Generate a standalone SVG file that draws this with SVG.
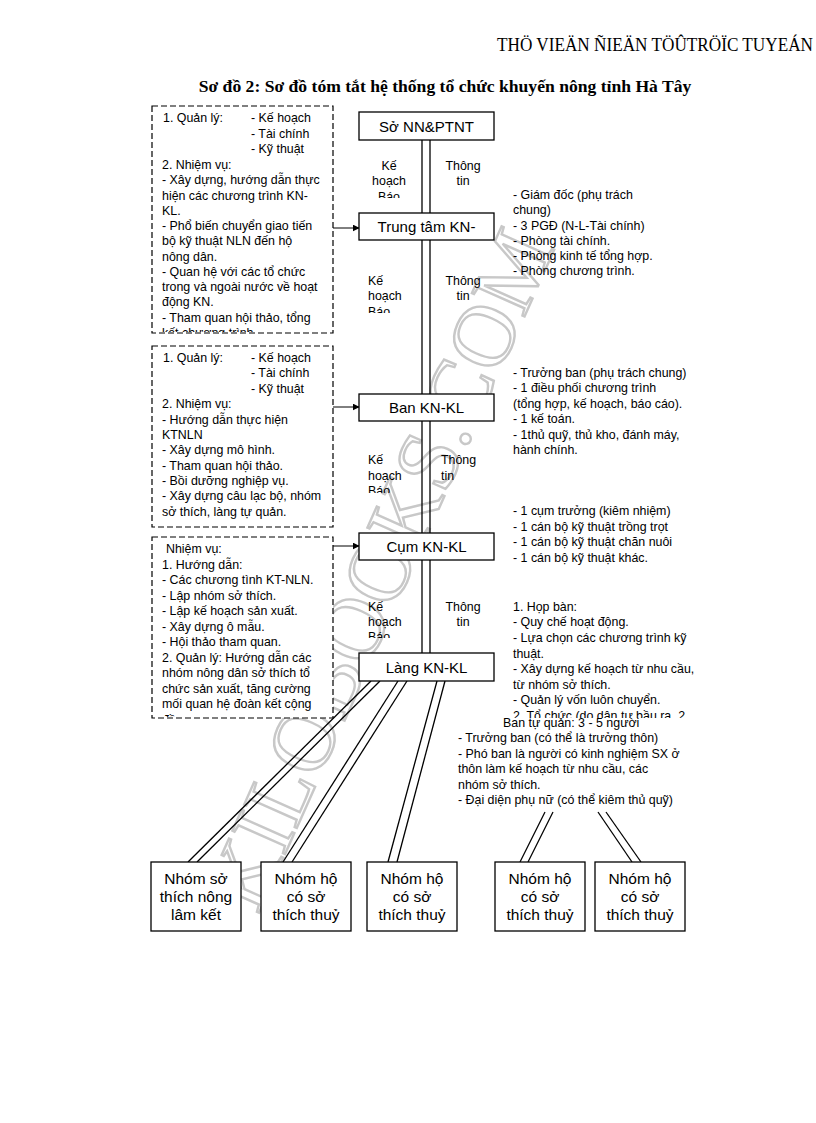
<svg xmlns="http://www.w3.org/2000/svg" width="816" height="1123" viewBox="0 0 816 1123">
<style>
.t{font-family:"Liberation Sans",Arial,sans-serif;font-size:12.4px;fill:#000}
.b{font-family:"Liberation Sans",Arial,sans-serif;font-size:15px;fill:#000}
.bb{font-family:"Liberation Sans",Arial,sans-serif;font-size:15.5px;fill:#000}
.box{fill:#fff;stroke:#000;stroke-width:1.3}
.dash{fill:#fff;stroke:#000;stroke-width:1.2;stroke-dasharray:6 3}
.ln{stroke:#000;stroke-width:1.3;fill:none}
.ar{stroke:#000;stroke-width:1;fill:none}
.wm{font-family:"Liberation Serif","Times New Roman",serif;font-size:88px;fill:none;stroke:#c8c8c8;stroke-width:2.4}
</style>
<defs>
<marker id="ah" viewBox="0 0 10 10" refX="9" refY="5" markerWidth="7" markerHeight="7" orient="auto" markerUnits="userSpaceOnUse"><path d="M0,0 L10,5 L0,10 z" fill="#000"/></marker>
<clipPath id="c1"><rect x="152" y="106" width="181" height="226"/></clipPath>
<clipPath id="c2"><rect x="152" y="346" width="181" height="180"/></clipPath>
<clipPath id="c3"><rect x="152" y="537" width="181" height="180"/></clipPath>
<clipPath id="cl1"><rect x="350" y="150" width="150" height="48"/></clipPath>
<clipPath id="cl2"><rect x="350" y="265" width="150" height="48"/></clipPath>
<clipPath id="cl3"><rect x="350" y="445" width="150" height="48"/></clipPath>
<clipPath id="cl4"><rect x="350" y="590" width="150" height="48"/></clipPath>
<clipPath id="cr4"><rect x="500" y="595" width="220" height="123"/></clipPath>
</defs>
<rect width="816" height="1123" fill="#fff"/>

<text x="497" y="51" textLength="316" lengthAdjust="spacingAndGlyphs" style="font-family:'Liberation Serif','Times New Roman',serif;font-size:19px">THÖ VIEÄN ÑIEÄN TÖÛTRÖÏC TUYEÁN</text>
<text x="445" y="92" text-anchor="middle" style="font-family:'Liberation Serif','Times New Roman',serif;font-size:17.6px;font-weight:bold">Sơ đồ 2: Sơ đồ tóm tắt hệ thống tổ chức khuyến nông tỉnh Hà Tây</text>

<g id="watermark"><text class="wm" transform="translate(258,915) rotate(-66)">KILOBOOKS.COM</text></g>

<g id="connectors">
<line class="ln" x1="422" y1="140" x2="422" y2="653"/>
<line class="ln" x1="430" y1="140" x2="430" y2="653"/>
<line class="ar" x1="333" y1="228" x2="359" y2="228" marker-end="url(#ah)"/>
<line class="ar" x1="333" y1="407" x2="359" y2="407" marker-end="url(#ah)"/>
<line class="ar" x1="333" y1="546" x2="359" y2="546" marker-end="url(#ah)"/>
<line class="ln" x1="371" y1="681" x2="188" y2="862"/>
<line class="ln" x1="380" y1="681" x2="197" y2="862"/>
<line class="ln" x1="398" y1="681" x2="283" y2="862"/>
<line class="ln" x1="407" y1="681" x2="292" y2="862"/>
<line class="ln" x1="437" y1="681" x2="388" y2="862"/>
<line class="ln" x1="445" y1="681" x2="397" y2="862"/>
<line class="ln" x1="545" y1="812" x2="520" y2="862"/>
<line class="ln" x1="553" y1="812" x2="528" y2="862"/>
<line class="ln" x1="598" y1="812" x2="632" y2="862"/>
<line class="ln" x1="606" y1="812" x2="641" y2="862"/>
</g>

<g id="so"><rect class="box" x="359" y="112" width="135" height="28"/><text class="b" x="426.5" y="131.5" text-anchor="middle">Sở NN&amp;PTNT</text></g>
<g id="trungtam"><rect class="box" x="359" y="213" width="135" height="27"/><text class="b" x="426.5" y="232" text-anchor="middle">Trung tâm KN-</text></g>
<g id="ban"><rect class="box" x="359" y="394" width="135" height="27"/><text class="b" x="426.5" y="413" text-anchor="middle">Ban KN-KL</text></g>
<g id="cum"><rect class="box" x="359" y="533" width="135" height="27"/><text class="b" x="426.5" y="552" text-anchor="middle">Cụm KN-KL</text></g>
<g id="lang"><rect class="box" x="359" y="653" width="135" height="28"/><text class="b" x="426.5" y="672.5" text-anchor="middle">Làng KN-KL</text></g>

<g id="labels">
<g clip-path="url(#cl1)"><text class="t" x="389" y="170" text-anchor="middle">Kế</text><text class="t" x="389" y="185" text-anchor="middle">hoạch</text><text class="t" x="389" y="201" text-anchor="middle">Báo</text></g>
<text class="t" x="463" y="170" text-anchor="middle">Thông</text><text class="t" x="463" y="185" text-anchor="middle">tin</text>
<g clip-path="url(#cl2)"><text class="t" x="368" y="285">Kế</text><text class="t" x="368" y="300">hoạch</text><text class="t" x="368" y="316">Báo</text></g>
<text class="t" x="463" y="285" text-anchor="middle">Thông</text><text class="t" x="463" y="300" text-anchor="middle">tin</text>
<g clip-path="url(#cl3)"><text class="t" x="368" y="464">Kế</text><text class="t" x="368" y="480">hoạch</text><text class="t" x="368" y="495">Báo</text></g>
<text class="t" x="441" y="464">Thông</text><text class="t" x="441" y="480">tin</text>
<g clip-path="url(#cl4)"><text class="t" x="368" y="611">Kế</text><text class="t" x="368" y="626">hoạch</text><text class="t" x="368" y="641">Báo</text></g>
<text class="t" x="463" y="611" text-anchor="middle">Thông</text><text class="t" x="463" y="626" text-anchor="middle">tin</text>
</g>

<g id="box1"><rect class="dash" x="152" y="106" width="181" height="227"/>
<g clip-path="url(#c1)">
<text class="t" x="163" y="122">1. Quản lý:</text><text class="t" x="251" y="122">- Kế hoạch</text>
<text class="t" x="251" y="138">- Tài chính</text>
<text class="t" x="251" y="153">- Kỹ thuật</text>
<text class="t" x="162" y="169">2. Nhiệm vụ:</text>
<text class="t" x="162" y="184">- Xây dựng, hướng dẫn thực</text>
<text class="t" x="162" y="200">hiện các chương trình KN-</text>
<text class="t" x="162" y="215">KL.</text>
<text class="t" x="162" y="230">- Phổ biến chuyển giao tiến</text>
<text class="t" x="162" y="245">bộ kỹ thuật NLN đến hộ</text>
<text class="t" x="162" y="261">nông dân.</text>
<text class="t" x="162" y="276">- Quan hệ với các tổ chức</text>
<text class="t" x="162" y="291">trong và ngoài nước về hoạt</text>
<text class="t" x="162" y="306">động KN.</text>
<text class="t" x="162" y="322">- Tham quan hội thảo, tổng</text>
<text class="t" x="162" y="337">kết chương trình</text>
</g></g>

<g id="box2"><rect class="dash" x="152" y="346" width="181" height="181"/>
<g clip-path="url(#c2)">
<text class="t" x="163" y="362">1. Quản lý:</text><text class="t" x="251" y="362">- Kế hoạch</text>
<text class="t" x="251" y="377">- Tài chính</text>
<text class="t" x="251" y="393">- Kỹ thuật</text>
<text class="t" x="162" y="408">2. Nhiệm vụ:</text>
<text class="t" x="162" y="424">- Hướng dẫn thực hiện</text>
<text class="t" x="162" y="439">KTNLN</text>
<text class="t" x="162" y="454">- Xây dựng mô hình.</text>
<text class="t" x="162" y="470">- Tham quan hội thảo.</text>
<text class="t" x="162" y="485">- Bồi dưỡng nghiệp vụ.</text>
<text class="t" x="162" y="500">- Xây dựng câu lạc bộ, nhóm</text>
<text class="t" x="162" y="516">sở thích, làng tự quản.</text>
</g></g>

<g id="box3"><rect class="dash" x="152" y="537" width="181" height="181"/>
<g clip-path="url(#c3)">
<text class="t" x="166" y="553">Nhiệm vụ:</text>
<text class="t" x="162" y="569">1. Hướng dẫn:</text>
<text class="t" x="162" y="584">- Các chương tình KT-NLN.</text>
<text class="t" x="162" y="600">- Lập nhóm sở thích.</text>
<text class="t" x="162" y="615">- Lập kế hoạch sản xuất.</text>
<text class="t" x="162" y="631">- Xây dựng ô mẫu.</text>
<text class="t" x="162" y="646">- Hội thảo tham quan.</text>
<text class="t" x="162" y="662">2. Quản lý: Hướng dẫn các</text>
<text class="t" x="162" y="677">nhóm nông dân sở thích tổ</text>
<text class="t" x="162" y="693">chức sản xuất, tăng cường</text>
<text class="t" x="162" y="708">mối quan hệ đoàn kết cộng</text>
<text class="t" x="162" y="724">đồng.</text>
</g></g>

<g id="info1">
<text class="t" x="513" y="199">- Giám đốc (phụ trách</text>
<text class="t" x="513" y="214">chung)</text>
<text class="t" x="513" y="230">- 3 PGĐ (N-L-Tài chính)</text>
<text class="t" x="513" y="245">- Phòng tài chính.</text>
<text class="t" x="513" y="260">- Phòng kinh tế tổng hợp.</text>
<text class="t" x="513" y="275">- Phòng chương trình.</text>
</g>
<g id="info2">
<text class="t" x="513" y="377">- Trưởng ban (phụ trách chung)</text>
<text class="t" x="513" y="392">- 1 điều phối chương trình</text>
<text class="t" x="513" y="408">(tổng hợp, kế hoạch, báo cáo).</text>
<text class="t" x="513" y="423">- 1 kế toán.</text>
<text class="t" x="513" y="439">- 1thủ quỹ, thủ kho, đánh máy,</text>
<text class="t" x="513" y="454">hành chính.</text>
</g>
<g id="info3">
<text class="t" x="513" y="515">- 1 cụm trưởng (kiêm nhiệm)</text>
<text class="t" x="513" y="531">- 1 cán bộ kỹ thuật trồng trọt</text>
<text class="t" x="513" y="546">- 1 cán bộ kỹ thuật chăn nuôi</text>
<text class="t" x="513" y="562">- 1 cán bộ kỹ thuật khác.</text>
</g>
<g id="info4"><g clip-path="url(#cr4)">
<text class="t" x="513" y="611">1. Họp bàn:</text>
<text class="t" x="513" y="626">- Quy chế hoạt động.</text>
<text class="t" x="513" y="642">- Lựa chọn các chương trình kỹ</text>
<text class="t" x="513" y="658">thuật.</text>
<text class="t" x="513" y="673">- Xây dựng kế hoạch từ nhu cầu,</text>
<text class="t" x="513" y="689">từ nhóm sở thích.</text>
<text class="t" x="513" y="704">- Quản lý vốn luôn chuyển.</text>
<text class="t" x="513" y="720">2. Tổ chức (do dân tự bầu ra, 2</text>
</g></g>
<g id="info5">
<text class="t" x="503" y="727">Ban tự quản: 3 - 5 người</text>
<text class="t" x="458" y="742">- Trưởng ban (có thể là trưởng thôn)</text>
<text class="t" x="458" y="758">- Phó ban là người có kinh nghiệm SX ở</text>
<text class="t" x="458" y="773">thôn làm kế hoạch từ nhu cầu, các</text>
<text class="t" x="458" y="789">nhóm sở thích.</text>
<text class="t" x="458" y="804">- Đại diện phụ nữ (có thể kiêm thủ quỹ)</text>
</g>

<g id="nhomA"><rect class="box" x="151" y="862" width="90" height="69"/><text class="bb" x="196" y="884" text-anchor="middle">Nhóm sở</text><text class="bb" x="196" y="902" text-anchor="middle">thích nông</text><text class="bb" x="196" y="920" text-anchor="middle">lâm kết</text></g>
<g id="nhomB"><rect class="box" x="261" y="862" width="90" height="69"/><text class="bb" x="306" y="884" text-anchor="middle">Nhóm hộ</text><text class="bb" x="306" y="902" text-anchor="middle">có sở</text><text class="bb" x="306" y="920" text-anchor="middle">thích thuỷ</text></g>
<g id="nhomC"><rect class="box" x="367" y="862" width="90" height="69"/><text class="bb" x="412" y="884" text-anchor="middle">Nhóm hộ</text><text class="bb" x="412" y="902" text-anchor="middle">có sở</text><text class="bb" x="412" y="920" text-anchor="middle">thích thuỷ</text></g>
<g id="nhomD"><rect class="box" x="495" y="862" width="90" height="69"/><text class="bb" x="540" y="884" text-anchor="middle">Nhóm hộ</text><text class="bb" x="540" y="902" text-anchor="middle">có sở</text><text class="bb" x="540" y="920" text-anchor="middle">thích thuỷ</text></g>
<g id="nhomE"><rect class="box" x="595" y="862" width="90" height="69"/><text class="bb" x="640" y="884" text-anchor="middle">Nhóm hộ</text><text class="bb" x="640" y="902" text-anchor="middle">có sở</text><text class="bb" x="640" y="920" text-anchor="middle">thích thuỷ</text></g>
</svg>
